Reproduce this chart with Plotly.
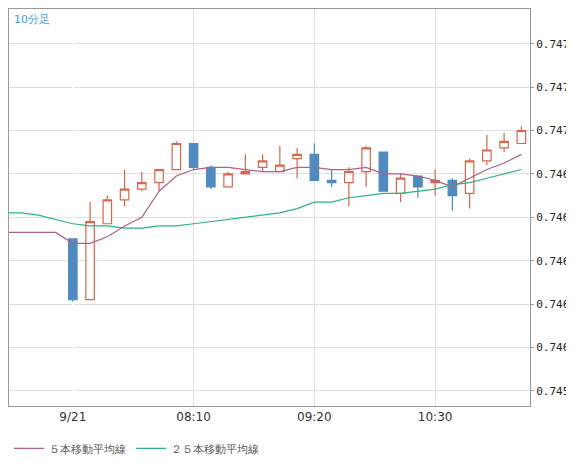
import plotly.graph_objects as go

# 10-minute candles, index 0 = 9/21 07:00
idx = list(range(27))
opens = [0.74650, 0.74622, 0.74657, 0.74668, 0.74673, 0.74676, 0.74682, 0.74694, 0.74683, 0.74674,
         0.74680, 0.74683, 0.74681, 0.74687, 0.74689, 0.74677, 0.74676, 0.74681, 0.74690, 0.74671,
         0.74679, 0.74676, 0.74677, 0.74671, 0.74686, 0.74692, 0.74694]
highs = [0.74650, 0.74667, 0.74670, 0.74682, 0.74681, 0.74682, 0.74695, 0.74694, 0.74684, 0.74681,
         0.74689, 0.74689, 0.74693, 0.74692, 0.74694, 0.74682, 0.74683, 0.74693, 0.74690, 0.74680,
         0.74679, 0.74682, 0.74678, 0.74687, 0.74698, 0.74699, 0.74702]
lows = [0.74621, 0.74622, 0.74657, 0.74665, 0.74672, 0.74672, 0.74682, 0.74682, 0.74673, 0.74674,
        0.74680, 0.74681, 0.74681, 0.74678, 0.74677, 0.74674, 0.74665, 0.74674, 0.74672, 0.74667,
        0.74669, 0.74670, 0.74663, 0.74664, 0.74684, 0.74690, 0.74694]
closes = [0.74622, 0.74658, 0.74668, 0.74673, 0.74676, 0.74682, 0.74694, 0.74683, 0.74674, 0.74680,
          0.74681, 0.74686, 0.74684, 0.74689, 0.74677, 0.74676, 0.74681, 0.74692, 0.74672, 0.74678,
          0.74674, 0.74677, 0.74670, 0.74686, 0.74691, 0.74695, 0.74700]

ma_idx = list(range(-4, 27))
ma5 = [0.74653, 0.74653, 0.74653, 0.74653,
       0.74648, 0.74648, 0.74651, 0.74656, 0.74660, 0.74672, 0.74679, 0.74682, 0.74683, 0.74683,
       0.74682, 0.74681, 0.74681, 0.74683, 0.74683, 0.74682, 0.74682, 0.74683, 0.74680, 0.74680,
       0.74679, 0.74677, 0.74674, 0.74678, 0.74682, 0.74685, 0.74689]
ma25 = [0.74662, 0.74662, 0.74661, 0.74659,
        0.74657, 0.74656, 0.74656, 0.74655, 0.74655, 0.74656, 0.74656, 0.74657, 0.74658, 0.74659,
        0.74660, 0.74661, 0.74662, 0.74664, 0.74667, 0.74667, 0.74669, 0.74670, 0.74671, 0.74671,
        0.74672, 0.74673, 0.74675, 0.74676, 0.74678, 0.74680, 0.74682]

tick_pos = [0, 7, 14, 21]
tick_text = ["9/21", "08:10", "09:20", "10:30"]
y_ticks = [0.7458, 0.7460, 0.7462, 0.7464, 0.7466, 0.7468, 0.7470, 0.7472, 0.7474]

fig = go.Figure()
fig.add_trace(go.Scatter(x=ma_idx, y=ma25, mode="lines", name="２５本移動平均線",
                         line=dict(color="#2db37a", width=1.2)))
fig.add_trace(go.Scatter(x=ma_idx, y=ma5, mode="lines", name="５本移動平均線",
                         line=dict(color="#b0608a", width=1.2)))
fig.add_trace(go.Candlestick(
    x=idx, open=opens, high=highs, low=lows, close=closes, showlegend=False,
    increasing=dict(line=dict(color="#d9664a", width=1.2), fillcolor="white"),
    decreasing=dict(line=dict(color="#4f8bbf", width=1.2), fillcolor="#4f8bbf"),
    whiskerwidth=0, hoverinfo="skip"))

fig.update_layout(
    width=574, height=462,
    margin=dict(l=1, r=52, t=1, b=64),
    paper_bgcolor="white", plot_bgcolor="white",
    font=dict(family="DejaVu Sans", size=12, color="#333"),
    legend=dict(orientation="h", x=0.0, y=-0.07, xanchor="left", yanchor="top",
                traceorder="reversed", font=dict(size=11, color="#555")),
    annotations=[dict(text="10分足", x=0.005, y=0.995, xref="paper", yref="paper",
                      xanchor="left", yanchor="top", showarrow=False,
                      font=dict(size=11, color="#3aa0d8"))],
)
fig.update_xaxes(range=[-3.7, 26.5], tickvals=tick_pos, ticktext=tick_text,
                 showgrid=True, gridcolor="#e0e0e0", rangeslider_visible=False,
                 showline=True, linecolor="#999", mirror=True, ticks="",
                 tickfont=dict(size=12, color="#333"))
fig.update_yaxes(side="right", range=[0.74573, 0.74756], tickvals=y_ticks,
                 ticktext=["%.4f" % v for v in y_ticks], showgrid=True, gridcolor="#e0e0e0",
                 showline=True, linecolor="#999", mirror=True, ticks="outside", ticklen=3,
                 tickcolor="#999", automargin=False,
                 tickfont=dict(family="DejaVu Sans Mono", size=11, color="#222"))

fig.write_html("out.html")
